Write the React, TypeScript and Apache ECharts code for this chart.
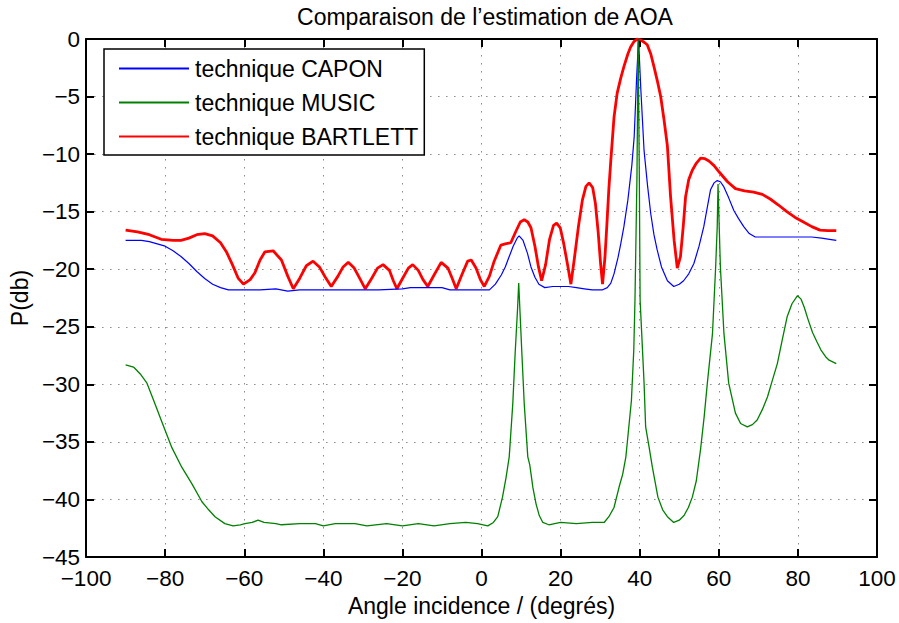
import React, { useEffect, useRef } from "react";
import * as echarts from "echarts";

const titleText = "Comparaison de l\u2019estimation de AOA";
const xName = "Angle incidence / (degrés)";
const yName = "P(db)";
const seriesNames = ["technique CAPON", "technique MUSIC", "technique BARTLETT"];

const capon: [number, number][] = [
  [-90, -17.5], [-86, -17.5], [-84, -17.6], [-82, -17.8], [-80, -18.0], [-78, -18.4], [-76, -18.9],
  [-74, -19.5], [-72, -20.2], [-70, -20.8], [-68, -21.3], [-66, -21.6], [-64, -21.8], [-60, -21.8],
  [-56, -21.8], [-52, -21.7], [-49, -21.9], [-46, -21.8], [-40, -21.8], [-34, -21.8], [-30, -21.8],
  [-26, -21.8], [-20, -21.7], [-18, -21.6], [-14, -21.6], [-10, -21.6], [-8, -21.8], [-4, -21.8],
  [0, -21.8], [2, -21.8], [3.5, -21.3], [5, -20.5], [6, -19.8], [7, -18.9], [8, -18.0], [9, -17.3],
  [9.5, -17.1], [10.5, -17.5], [11.6, -18.6], [12.5, -19.8], [13.5, -20.7], [14.5, -21.3], [16, -21.6],
  [18, -21.5], [20, -21.5], [22, -21.5], [24, -21.6], [26, -21.7], [28, -21.8], [30.5, -21.8],
  [31.8, -21.6], [32.7, -21.2], [33.5, -20.4], [34.5, -19.0], [35.2, -17.8], [36, -16.3], [37, -14.0],
  [38, -11.0], [38.6, -8.5], [39.2, -3.5], [39.7, 0], [40.3, -4.5], [41.1, -9.7], [42, -12.8],
  [42.8, -15.2], [43.6, -17.0], [44.4, -18.3], [45.5, -19.8], [47, -21.0], [48.6, -21.5], [50, -21.3],
  [51.1, -21.0], [52.4, -20.4], [53.7, -19.5], [55, -18.0], [56.2, -16.3], [57.1, -14.6], [57.9, -13.1],
  [58.8, -12.5], [59.6, -12.3], [60.4, -12.4], [61.2, -12.8], [62.5, -13.8], [63.8, -14.9], [65, -15.6],
  [66.3, -16.3], [67.7, -16.9], [69.2, -17.2], [72, -17.2], [76, -17.2], [80, -17.2], [83.5, -17.2],
  [86, -17.3], [88, -17.4], [89.7, -17.5],
];

const music: [number, number][] = [
  [-90, -28.3], [-88, -28.5], [-86.3, -29.1], [-84.6, -29.9], [-82.9, -31.4], [-80.8, -33.3],
  [-78.3, -35.5], [-75.8, -37.2], [-73.3, -38.6], [-70.7, -40.2], [-69, -40.9], [-67.4, -41.5],
  [-64.9, -42.1], [-62.8, -42.3], [-61, -42.2], [-59.8, -42.1], [-58, -42.0], [-56.5, -41.8],
  [-55, -42.0], [-52, -42.1], [-50.6, -42.2], [-46, -42.1], [-42, -42.1], [-40, -42.3], [-37, -42.1],
  [-32, -42.1], [-29, -42.3], [-24, -42.1], [-20, -42.3], [-16, -42.1], [-12, -42.3], [-8, -42.1],
  [-4, -42.0], [-1, -42.1], [1.6, -42.3], [3, -42.0], [4.1, -41.5], [5.3, -39.8], [6.2, -38.1],
  [7.0, -36.3], [7.9, -31.7], [8.5, -27.3], [9.1, -23.5], [9.4, -21.2], [9.7, -23.5], [10.2, -27.3],
  [10.8, -31.7], [11.7, -36.3], [12.2, -37.0], [13.0, -39.0], [13.8, -40.4], [14.6, -41.4],
  [15.5, -42.0], [17, -42.2], [20, -42.0], [24, -42.1], [28, -42.0], [31, -42.0], [32.2, -41.5],
  [33.5, -40.7], [34.8, -38.9], [35.7, -37.8], [36.5, -36.3], [36.9, -34.9], [37.9, -31.4],
  [38.5, -27.0], [38.8, -22.7], [39.3, -12.0], [39.6, 0], [39.9, -12.0], [40.1, -22.7], [40.7, -27.0],
  [41.1, -29.9], [41.5, -33.7], [42.3, -35.3], [43.2, -37.2], [44.6, -39.8], [45.8, -40.9],
  [47.0, -41.5], [48.6, -42.0], [50, -41.8], [51.2, -41.4], [52.3, -40.7], [53.3, -39.8],
  [54.3, -38.4], [55.4, -35.6], [56.3, -32.8], [57.1, -29.9], [58.4, -25.6], [59.2, -19.8],
  [59.6, -16.3], [59.8, -12.6], [60.1, -16.3], [60.4, -19.8], [61.3, -25.6], [62.5, -29.9],
  [64.2, -32.5], [65.5, -33.4], [67.2, -33.7], [68.5, -33.5], [69.7, -33.1], [71, -32.2],
  [72.3, -31.1], [73.5, -29.7], [74.8, -28.2], [76, -26.2], [77.3, -24.1], [78.5, -23.0],
  [79.9, -22.3], [80.8, -22.6], [81.6, -23.3], [82.6, -24.4], [83.7, -25.5], [84.8, -26.3],
  [85.8, -27.0], [87, -27.6], [87.9, -27.9], [89.7, -28.2],
];

const bartlett: [number, number][] = [
  [-90, -16.6], [-87, -16.75], [-84, -17.0], [-81, -17.4], [-78, -17.5], [-76, -17.5], [-74, -17.3],
  [-72, -17.0], [-70, -16.9], [-68, -17.1], [-66, -17.7], [-64.5, -18.5], [-63, -19.6], [-61.5, -20.8],
  [-60.2, -21.3], [-58.5, -20.9], [-57.3, -20.3], [-56, -19.2], [-54.8, -18.5], [-52.7, -18.4],
  [-50.6, -19.2], [-49, -20.6], [-47.6, -21.7], [-46, -20.8], [-44.3, -19.7], [-42.6, -19.3],
  [-41, -19.8], [-39.5, -20.7], [-38, -21.5], [-36.3, -20.6], [-35, -19.8], [-33.7, -19.4],
  [-32.2, -19.9], [-30.8, -20.8], [-29.4, -21.7], [-27.8, -20.8], [-26.3, -19.9], [-24.9, -19.6],
  [-23.3, -20.1], [-22.3, -21.0], [-21.4, -21.7], [-19.8, -20.7], [-18.5, -19.9], [-17.4, -19.6],
  [-16, -20.1], [-14.8, -20.9], [-13.6, -21.5], [-12, -20.5], [-10.2, -19.4], [-8.5, -19.9],
  [-7.4, -20.8], [-6.4, -21.7], [-5, -20.5], [-3.5, -19.3], [-2.6, -19.2], [-1.4, -19.9],
  [-0.3, -20.9], [0.7, -21.5], [2, -20.6], [3.2, -19.3], [4.9, -17.9], [6, -17.8], [7.4, -17.7],
  [8.7, -16.7], [9.8, -15.9], [10.8, -15.7], [11.7, -15.9], [12.5, -16.4], [13.5, -18.0],
  [14.4, -19.8], [15.2, -21.0], [16.2, -19.6], [17.2, -17.4], [18.2, -16.2], [19.0, -16.0],
  [19.9, -16.4], [20.8, -17.8], [21.8, -19.7], [22.6, -21.3], [23.5, -19.0], [24.5, -16.3],
  [25.5, -14.0], [26.4, -12.8], [27.2, -12.5], [28.1, -12.9], [28.8, -14.3], [29.5, -16.8],
  [30.1, -19.5], [30.6, -21.3], [31.2, -19.0], [31.7, -16.1], [32.2, -13.0], [32.7, -10.5],
  [33.5, -6.8], [34.3, -4.7], [35.2, -3.4], [36, -2.4], [37, -1.3], [37.7, -0.7], [38.6, -0.2],
  [39.4, 0], [40.3, -0.1], [41.2, -0.3], [41.9, -0.5], [42.8, -1.3], [43.6, -2.4], [44.5, -3.7],
  [45.3, -5.0], [46.1, -6.9], [47.0, -9.3], [47.8, -13.7], [48.7, -17.5], [49.5, -19.9],
  [50.3, -18.9], [51.0, -16.3], [51.6, -13.7], [52.4, -12.2], [53.3, -11.4], [54.3, -10.8],
  [55.4, -10.35], [56.5, -10.4], [57.5, -10.6], [58.8, -11.0], [60.2, -11.6], [62.2, -12.4],
  [64.2, -13.0], [66.5, -13.2], [68.8, -13.3], [71, -13.5], [73, -13.9], [75, -14.4], [77.2, -15.0],
  [79.3, -15.5], [81.4, -15.9], [83.5, -16.3], [85.6, -16.6], [87.5, -16.65], [89.7, -16.65],
];

const FONT = "'Liberation Sans', Arial, Helvetica, sans-serif";
const fmt = (v: number) => String(v).replace("-", "\u2212");

export default function App() {
  const ref = useRef<HTMLDivElement>(null);
  useEffect(() => {
    if (!ref.current) return;
    const chart = echarts.init(ref.current, null, { renderer: "svg" });
    const grid = { left: 84, right: 22, top: 39, bottom: 66, containLabel: false };
    const splitLine = { show: true, lineStyle: { color: "#8a8a8a", type: [1.5, 6.5] as any, width: 1 } };
    const axisLine = { show: true, onZero: false, lineStyle: { color: "#000", width: 2 } };
    const axisTick = { show: true, inside: true, length: 8, lineStyle: { color: "#000", width: 2 } };
    chart.setOption({
      animation: false,
      backgroundColor: "#fff",
      textStyle: { fontFamily: FONT },
      title: {
        text: titleText,
        left: 480,
        textAlign: "center",
        top: 0,
        textStyle: { fontFamily: FONT, fontSize: 23, fontWeight: "normal", color: "#000" },
      },
      grid,
      legend: {
        orient: "vertical",
        left: 104,
        top: 49,
        data: seriesNames,
        backgroundColor: "#fff",
        borderColor: "#000",
        borderWidth: 1.5,
        borderRadius: 0,
        padding: [8, 6, 7, 14],
        itemGap: 11,
        itemWidth: 70,
        itemHeight: 14,
        itemStyle: { opacity: 0 },
        textStyle: { fontFamily: FONT, fontSize: 23, color: "#000", padding: [0, 0, 0, 1] },
      },
      xAxis: [
        {
          type: "value",
          min: -100,
          max: 100,
          interval: 20,
          position: "bottom",
          name: xName,
          nameLocation: "middle",
          nameGap: 35,
          nameTextStyle: { fontFamily: FONT, fontSize: 23, color: "#000" },
          axisLine,
          axisTick,
          splitLine,
          axisLabel: { formatter: fmt, fontFamily: FONT, fontSize: 22.5, color: "#000", margin: 10 },
        },
        {
          type: "value",
          min: -100,
          max: 100,
          interval: 20,
          position: "top",
          axisLine,
          axisTick,
          splitLine: { show: false },
          axisLabel: { show: false },
        },
      ],
      yAxis: [
        {
          type: "value",
          min: -45,
          max: 0,
          interval: 5,
          position: "left",
          name: yName,
          nameLocation: "middle",
          nameGap: 52,
          nameRotate: 90,
          nameTextStyle: { fontFamily: FONT, fontSize: 23, color: "#000" },
          axisLine,
          axisTick,
          splitLine,
          axisLabel: { formatter: fmt, fontFamily: FONT, fontSize: 22.5, color: "#000", margin: 6 },
        },
        {
          type: "value",
          min: -45,
          max: 0,
          interval: 5,
          position: "right",
          axisLine,
          axisTick,
          splitLine: { show: false },
          axisLabel: { show: false },
        },
      ],
      series: [
        {
          name: seriesNames[0],
          type: "line",
          data: capon,
          symbol: "none",
          lineStyle: { color: "#0000ff", width: 1.2 },
          itemStyle: { color: "#0000ff" },
          z: 3,
        },
        {
          name: seriesNames[1],
          type: "line",
          data: music,
          symbol: "none",
          lineStyle: { color: "#008000", width: 1.3 },
          itemStyle: { color: "#008000" },
          z: 4,
        },
        {
          name: seriesNames[2],
          type: "line",
          data: bartlett,
          symbol: "none",
          lineStyle: { color: "#ff0000", width: 2.8 },
          itemStyle: { color: "#ff0000" },
          z: 2,
        },
      ],
    });
    return () => chart.dispose();
  }, []);
  return <div ref={ref} style={{ width: 899, height: 623, position: "absolute", left: 0, top: 0 }} />;
}
